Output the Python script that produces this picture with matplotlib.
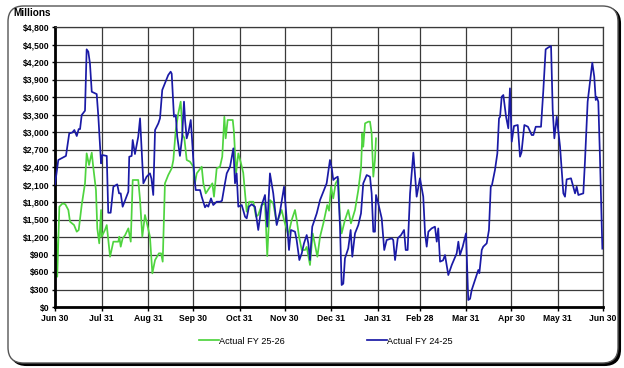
import numpy as np
import matplotlib
matplotlib.use("Agg")
import matplotlib.pyplot as plt
from matplotlib.patches import FancyBboxPatch

plt.rcParams['font.family'] = ['Liberation Sans', 'DejaVu Sans']

# x positions are days after Jun 30
month_days = [0, 31, 62, 92, 123, 153, 184, 215, 243, 274, 304, 335, 365]
month_labels = ['Jun 30', 'Jul 31', 'Aug 31', 'Sep 30', 'Oct 31', 'Nov 30', 'Dec 31',
                'Jan 31', 'Feb 28', 'Mar 31', 'Apr 30', 'May 31', 'Jun 30']
y_ticks = list(range(0, 4801, 300))

# Actual FY 24-25 (blue), $ millions
fy2425_days = [0, 2.2, 5.5, 7.3, 9.5, 11.5, 12.9, 14.5, 15.8, 16.7, 17.8, 20, 21.1, 22.2, 23.3,
               24.5, 27.8, 28.9, 30.7, 31.5, 34.5, 35.5, 37.1, 38.9, 41.5, 42.7, 43.8, 45.1,
               48.9, 49.5, 51.1, 51.8, 53.3, 55.5, 56.7, 58.9, 61.1, 63.3, 64.3, 65.5, 66.7,
               68.9, 70, 71.5, 73.3, 75.5, 77.1, 77.8, 79.3, 80.5, 81.5, 83.3, 84.7, 86, 86.7,
               87.8, 89, 90.5, 91.3, 92.9, 93.8, 96.7, 97.8, 100, 101.1, 102.2, 104, 105.5,
               107.8, 110, 111.3, 112.9, 114.5, 116.7, 118.9, 120, 121.1, 122.2, 124.5, 126.7,
               127.8, 129.3, 131.1, 133.3, 135.5, 137.8, 140, 141.5, 143.3, 145.5, 147.8, 150,
               152.7, 154.5, 156, 157.3, 160, 161.1, 162.9, 164.5, 166, 167.8, 168.9, 170,
               171.5, 174.5, 176.7, 178.9, 181.1, 183.3, 184.5, 185.5, 186.7, 188.5, 190,
               191.1, 192.2, 193.3, 195.5, 197.1, 198.2, 200, 202.2, 204, 205.5, 207.8, 210,
               211.1, 212.2, 213.3, 214, 215.5, 217.8, 219.5, 221.1, 224.5, 225.5, 226.7,
               228.5, 230.7, 232.7, 233.8, 235.1, 236.7, 238.9, 241.1, 243.3, 245.5, 246.7,
               247.8, 248.9, 251.1, 253.3, 254.5, 255.5, 256.7, 258.7, 260, 262.2, 264.5,
               267.8, 268.9, 270, 271.8, 274, 275.5, 276.7, 277.8, 280, 282.2, 282.9, 284.5,
               285.5, 287.8, 289.3, 290.5, 291.3, 293.3, 294.9, 296, 296.7, 297.8, 298.9,
               300.7, 302.2, 303.3, 304.5, 306, 308.5, 310, 311, 312.9, 315.3, 317.8, 318.9,
               320.5, 324, 325.5, 327.1, 328.9, 330.7, 331.8, 332.9, 334.5, 336.7, 337.8,
               338.9, 340, 341.1, 344, 345.5, 346.7, 347.8, 348.9, 352.2, 353.3, 355.1,
               356.7, 358.2, 359.5, 360.5, 361.1, 362.2, 363.3, 364.9]
fy2425_vals = [2100, 2520, 2566, 2590, 2977, 2990, 3034, 2931, 3050, 3050, 3291, 3365, 4417,
               4377, 4177, 3690, 3650, 3262, 2463, 2605, 2590, 1616, 1616, 2062, 2103, 1948,
               1948, 1719, 1976, 2576, 2590, 2863, 2622, 2920, 3234, 2120, 2234, 2291, 2200,
               1920, 3034, 3148, 3234, 3720, 3834, 3977, 4034, 4000, 3262, 3290, 2920, 2590,
               2900, 3520, 3206, 2891, 3000, 3206, 2900, 2234, 2005, 2005, 1891, 1709, 1750,
               1720, 1862, 1748, 1805, 1805, 1820, 2062, 2291, 2405, 2720, 2120, 2290, 1719,
               1748, 1548, 1520, 1719, 1760, 1719, 1320, 1748, 1920, 1377, 2291, 1948, 1405,
               1634, 2062, 1491, 977, 1320, 1291, 1148, 805, 920, 1091, 1234, 1091, 805, 1377,
               1605, 1834, 1977, 2120, 2520, 2380, 2177, 2206, 2234, 1377, 377, 400, 834,
               1005, 1320, 862, 1262, 1405, 1605, 2120, 2262, 2234, 1948, 1291, 1291, 1920,
               1777, 1520, 977, 1148, 1177, 1148, 805, 1177, 1234, 1320, 977, 977, 1948, 2646,
               1891, 2206, 1891, 1262, 1034, 1291, 1348, 1377, 1120, 1348, 777, 800, 891, 548,
               720, 920, 1120, 891, 1034, 1262, 120, 140, 291, 462, 634, 580, 977, 1034, 1091,
               1320, 2062, 2090, 2348, 2634, 3234, 3260, 3605, 3634, 3262, 3063, 3748, 2834,
               3103, 3120, 2577, 2650, 3120, 3090, 2948, 2948, 3090, 3090, 3691, 4417, 4450,
               4474, 3377, 2891, 3262, 2748, 2348, 1948, 1891, 2188, 2206, 2062, 1948, 2062,
               1920, 1948, 2491, 3520, 3862, 4188, 3948, 3548, 3600, 3520, 2577, 1000]

# Actual FY 25-26 (green), $ millions
fy2526_days = [0, 1.5, 2.9, 5.1, 6.9, 8.9, 10, 12.7, 14.5, 15.8, 17.8, 20, 21.1, 22.7, 24.5,
               25.5, 27.3, 28.2, 29.5, 30.7, 31.1, 33.3, 34.5, 36.7, 38.9, 42.2, 42.9, 43.8,
               45.1, 46.7, 48.9, 50.5, 51.8, 54.5, 55.5, 56.7, 58.2, 60, 61.8, 63.3, 64.9,
               66.7, 69.3, 70.7, 71.8, 73.3, 75.5, 77.8, 78.9, 80.5, 82.2, 83.8, 85.1, 86.2,
               87.8, 90, 92.2, 93.3, 94.5, 97.8, 98.9, 100.5, 102.7, 104.9, 106, 107.8, 110,
               111.5, 112.9, 113.8, 115.1, 118.5, 119.3, 120.7, 122.2, 124, 125.5, 126.7,
               127.8, 129.5, 132.2, 134, 135.5, 137.8, 140, 141.5, 143.3, 145.5, 147.8, 151.1,
               152.7, 155.5, 157.8, 160, 161.1, 162.7, 164.5, 166.7, 167.8, 170, 171.8, 174.9,
               176.7, 178.9, 181.5, 182.7, 184, 185.5, 187.1, 188.9, 190, 191.1, 193.3, 195.5,
               197.3, 200, 202.2, 204, 204.9, 205.5, 206.7, 208.9, 210, 211.1, 212.2, 213.3,
               214]
fy2526_vals = [2091, 520, 1719, 1777, 1760, 1663, 1463, 1405, 1291, 1320, 1748, 2120, 2634,
               2434, 2646, 2400, 2005, 1348, 1091, 1663, 1205, 1320, 1405, 862, 1120, 1120,
               1205, 1034, 1177, 1230, 1348, 1120, 2177, 2177, 2177, 1834, 1205, 1577, 1377,
               1205, 577, 805, 920, 920, 777, 2120, 2262, 2377, 2520, 3034, 3320, 3520, 2948,
               2900, 2520, 2491, 2405, 2120, 2291, 2405, 2120, 1948, 2034, 2120, 1891, 2377,
               2405, 2577, 3262, 2891, 3206, 3206, 3000, 2291, 2634, 2463, 2300, 1948, 1634,
               1805, 1805, 1548, 1580, 1748, 1777, 874, 1834, 1780, 1434, 1663, 1491, 1234,
               1491, 1663, 1500, 1205, 977, 977, 1030, 720, 1262, 862, 1205, 1434, 1748, 1650,
               2062, 1862, 2120, 2200, 1491, 1262, 1491, 1663, 1434, 1663, 2005, 2377, 2977,
               2748, 3148, 3177, 3177, 2977, 2234, 2520, 2891]

W, H = 624, 368
fig = plt.figure(figsize=(W / 100, H / 100), dpi=100)

# rounded chart border with a dark drop edge (kept behind the axes)
shadow = FancyBboxPatch((11 / W, 3 / H), 609 / W, 357 / H,
                        boxstyle="round,pad=0,rounding_size=0.025",
                        transform=fig.transFigure, facecolor='black', edgecolor='black',
                        linewidth=1.5, mutation_aspect=W / H, zorder=-10)
frame = FancyBboxPatch((8 / W, 5 / H), 610 / W, 357 / H,
                       boxstyle="round,pad=0,rounding_size=0.025",
                       transform=fig.transFigure, facecolor='white', edgecolor='#555555',
                       linewidth=1.0, mutation_aspect=W / H, zorder=-9)
fig.patches.extend([shadow, frame])

ax = fig.add_axes([55 / W, 1 - 307 / H, 547.5 / W, 280 / H])
ax.set_facecolor('none')

ax.plot(fy2425_days, fy2425_vals, color='#1a1aa6', linewidth=1.25, label='Actual FY 24-25', zorder=3)
ax.plot(fy2526_days, fy2526_vals, color='#4fd43f', linewidth=1.25, label='Actual FY 25-26', zorder=2)

ax.set_xlim(0, 365)
ax.set_ylim(0, 4800)
ax.set_xticks(month_days)
ax.set_xticklabels(month_labels, fontsize=6.2, fontweight='bold')
ax.set_yticks(y_ticks)
ax.set_yticklabels([f'${v:,}' for v in y_ticks], fontsize=6.2, fontweight='bold')
ax.tick_params(axis='both', direction='out', length=3, width=1, pad=2, colors='black')
ax.tick_params(axis='y', length=2)
ax.grid(True, color='#3a3a3a', linewidth=0.9)
ax.set_axisbelow(True)

for side in ['top', 'right']:
    ax.spines[side].set_color('#3a3a3a')
    ax.spines[side].set_linewidth(0.9)
for side in ['left', 'bottom']:
    ax.spines[side].set_color('black')
    ax.spines[side].set_linewidth(2.0)

fig.text(13 / W, 1 - 13.5 / H, 'Millions', fontsize=7.2, fontweight='bold', va='center', ha='left')

handles, labels = ax.get_legend_handles_labels()
fig.legend(handles[::-1], labels[::-1], loc='center', bbox_to_anchor=(326 / W, 1 - 341 / H),
           ncol=2, frameon=False, fontsize=6.6, handlelength=2.1, handletextpad=0.05,
           columnspacing=9.0)

fig.savefig('out.png', dpi=100)
